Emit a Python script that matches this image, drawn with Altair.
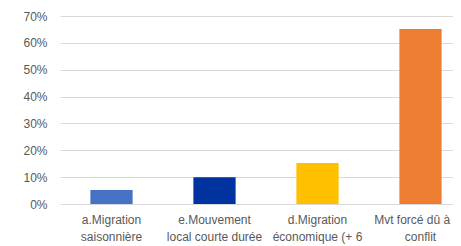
import altair as alt
import pandas as pd

categories = ["a.Migration|saisonnière", "e.Mouvement|local courte durée",
              "d.Migration|économique (+ 6", "Mvt forcé dû à un|conflit"]
values = [0.052, 0.10, 0.153, 0.652]
colors = ["#4472C4", "#0033A0", "#FFC000", "#ED7D31"]
y_ticks = [0, 0.1, 0.2, 0.3, 0.4, 0.5, 0.6, 0.7]

df = pd.DataFrame({"cat": categories, "val": values})

chart = alt.Chart(df).mark_bar().encode(
    x=alt.X("cat:N", sort=categories, title=None,
            scale=alt.Scale(range=[0, 412], paddingInner=0.59, paddingOuter=0.295),
            axis=alt.Axis(labelExpr="split(datum.label, '|')", labelAngle=0,
                          labelLineHeight=17, labelPadding=10, labelFontSize=12,
                          labelColor="#595959", labelFont="Liberation Sans",
                          domain=False, ticks=False, grid=False, labelLimit=0)),
    y=alt.Y("val:Q", title=None,
            scale=alt.Scale(domain=[0, 0.7], nice=False),
            axis=alt.Axis(values=y_ticks, format=".0%", labelColor="#595959",
                          labelFontSize=12, labelFont="Liberation Sans",
                          labelPadding=13, domain=False, ticks=False,
                          gridColor="#d9d9d9", gridWidth=1)),
    color=alt.Color("cat:N", sort=categories,
                    scale=alt.Scale(domain=categories, range=colors), legend=None),
).properties(
    width=393, height=188,
    autosize=alt.AutoSizeParams(type="none"),
    padding={"left": 52, "top": 8, "right": 0, "bottom": 40},
).configure_view(stroke=None)

chart.save("out.html", embed_options={"renderer": "svg", "actions": False})
